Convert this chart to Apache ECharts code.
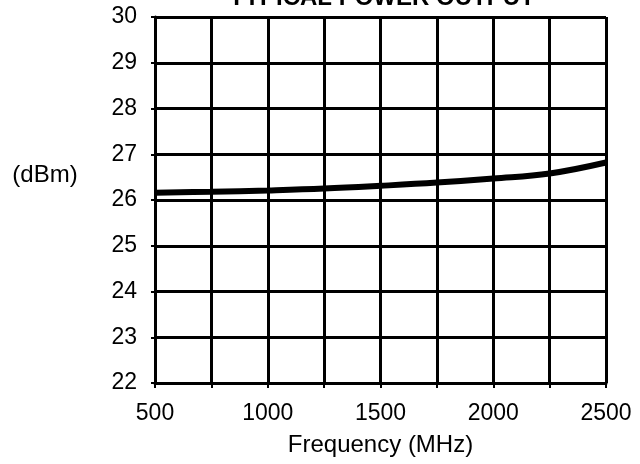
<!DOCTYPE html>
<html><head><meta charset="utf-8">
<script src="https://cdn.jsdelivr.net/npm/echarts@6/dist/echarts.min.js"></script>
<style>html,body{margin:0;padding:0;background:#fff}#c{width:640px;height:464px}</style>
</head><body><div id="c"></div>
<script>
var freq = [500, 750, 1000, 1250, 1500, 1750, 2000, 2250, 2500];
var power = [26.16, 26.18, 26.21, 26.25, 26.31, 26.38, 26.47, 26.58, 26.82];
var xTicks = [500, 1000, 1500, 2000, 2500];
var yTicks = [22, 23, 24, 25, 26, 27, 28, 29, 30];
var title = 'TYPICAL POWER OUTPUT';
var xName = 'Frequency (MHz)';
var yName = '(dBm)';

var font = 'Liberation Sans, Arial, sans-serif';
var chart = echarts.init(document.getElementById('c'), null, {renderer: 'canvas'});
chart.setOption({
  animation: false,
  backgroundColor: '#fff',
  grid: {left: 155, right: 34, top: 17, bottom: 81},
  graphic: [
    {type: 'text', x: 45, y: 175, style: {text: yName, font: '24px ' + font, fill: '#000', align: 'center', verticalAlign: 'middle'}},
    {type: 'text', x: 382, y: 10, style: {text: title, font: 'bold 24px ' + font, fill: '#000', align: 'center', verticalAlign: 'bottom'}}
  ],
  xAxis: {
    type: 'value', min: 500, max: 2500, interval: 250,
    name: xName, nameLocation: 'middle', nameGap: 50,
    nameTextStyle: {fontFamily: font, fontSize: 24, color: '#000'},
    axisLine: {show: true, lineStyle: {color: '#000', width: 3}},
    axisTick: {show: true, inside: false, length: 5, lineStyle: {color: '#000', width: 2}},
    axisLabel: {fontFamily: font, fontSize: 23, color: '#000', margin: 19,
      formatter: function (v) { return xTicks.indexOf(v) >= 0 ? String(v) : ''; }},
    splitLine: {show: true, lineStyle: {color: '#000', width: 3}}
  },
  yAxis: {
    type: 'value', min: 22, max: 30, interval: 1,
    axisLine: {show: true, lineStyle: {color: '#000', width: 3}},
    axisTick: {show: true, length: 4, lineStyle: {color: '#000', width: 2}},
    axisLabel: {fontFamily: font, fontSize: 23, color: '#000', margin: 18,
      formatter: function (v) { return yTicks.indexOf(v) >= 0 ? String(v) : ''; }},
    splitLine: {show: true, lineStyle: {color: '#000', width: 3}}
  },
  series: [{
    type: 'line', smooth: 0.4, showSymbol: false, symbol: 'none',
    data: freq.map(function (f, i) { return [f, power[i]]; }),
    lineStyle: {color: '#000', width: 6}
  }]
});
</script></body></html>
